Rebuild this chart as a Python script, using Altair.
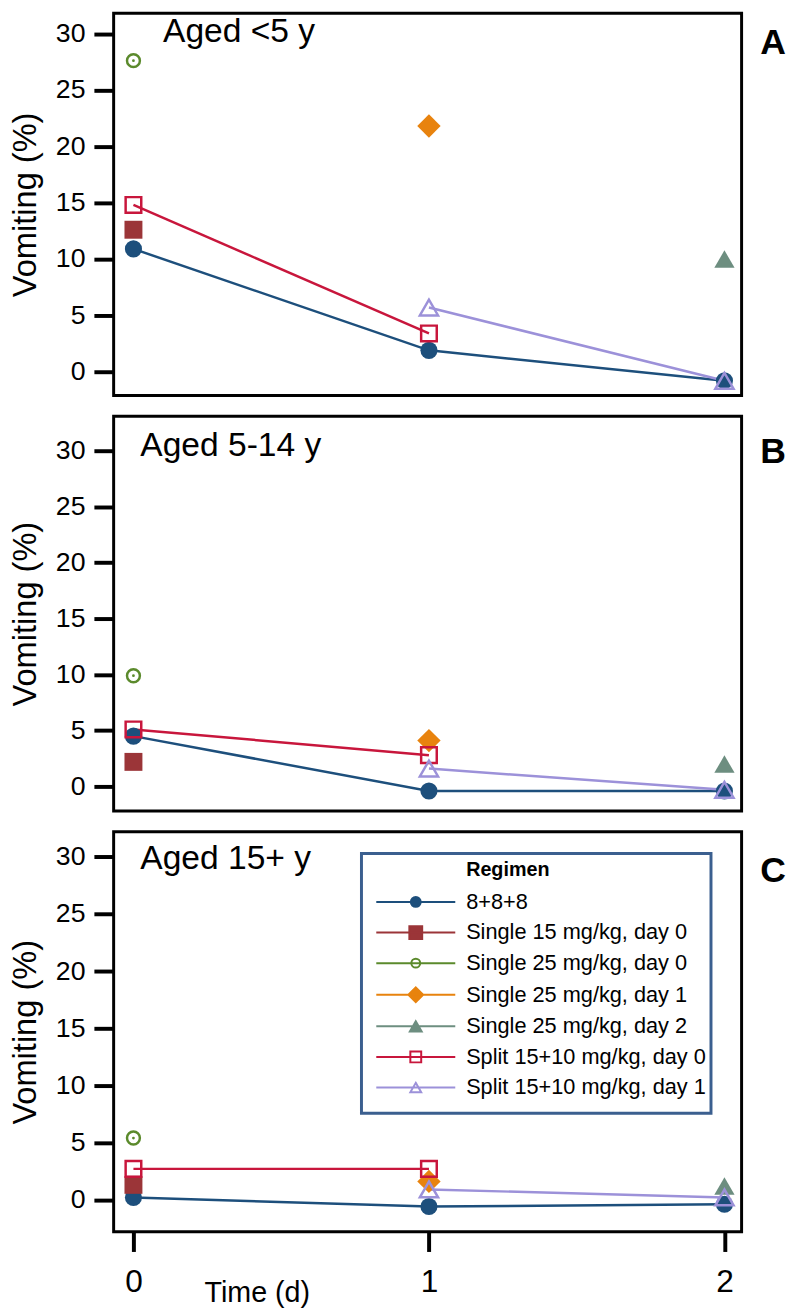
import altair as alt
import pandas as pd

FONT = "Liberation Sans"

# ---------------- data ----------------
regimens = [
    "8+8+8",
    "Single 15 mg/kg, day 0",
    "Single 25 mg/kg, day 0",
    "Single 25 mg/kg, day 1",
    "Single 25 mg/kg, day 2",
    "Split 15+10 mg/kg, day 0",
    "Split 15+10 mg/kg, day 1",
]
colors = ["#1d4f7c", "#9b3538", "#5b8a2c", "#e8830e", "#6d8e80", "#c8163c", "#9c91d9"]
filled = [True, True, False, True, True, False, False]
shapes = ["circle", "square", "circle", "diamond", "triangle-up", "square", "triangle-up"]
marker_sizes = [300, 330, 170, 560, 420, 250, 340]

days = [0, 1, 2]
N = None
vomit_under5 = [
    [10.9, 1.9, -0.8],
    [12.6, N, N],
    [27.6, N, N],
    [N, 21.8, N],
    [N, N, 10.0],
    [14.8, 3.4, N],
    [N, 5.7, -0.8],
]
vomit_5to14 = [
    [4.5, -0.4, -0.4],
    [2.2, N, N],
    [9.9, N, N],
    [N, 4.1, N],
    [N, N, 2.0],
    [5.1, 2.8, N],
    [N, 1.6, -0.3],
]
vomit_15plus = [
    [0.2, -0.6, -0.4],
    [1.3, N, N],
    [5.4, N, N],
    [N, 1.6, N],
    [N, N, 1.2],
    [2.7, 2.7, N],
    [N, 0.9, 0.2],
]
panel_titles = ["Aged <5 y", "Aged 5-14 y", "Aged 15+ y"]
panel_letters = ["A", "B", "C"]
y_ticks = [0, 5, 10, 15, 20, 25, 30]
x_ticks = [0, 1, 2]
legend_title = "Regimen"

# ---------------- helpers ----------------
XDOM = [-0.067, 2.058]
W = 636


def xenc(show):
    if show:
        return alt.X(
            "day:Q",
            scale=alt.Scale(domain=XDOM, nice=False, zero=False),
            axis=alt.Axis(
                values=x_ticks, format="d", tickSize=20, tickWidth=4, tickColor="black",
                domain=False, grid=False, labelFlush=False,
                labelFontSize=32, labelFont=FONT, labelColor="black", labelPadding=16,
                title="Time (d)", titleFont=FONT, titleFontSize=29, titleFontWeight="normal",
                titleColor="black", titleX=145, titleY=71, titleAlign="center",
                titleBaseline="alphabetic",
            ),
        )
    return alt.X("day:Q", scale=alt.Scale(domain=XDOM, nice=False, zero=False), axis=None)


def yenc(dom):
    return alt.Y(
        "vom:Q",
        scale=alt.Scale(domain=dom, nice=False, zero=False),
        axis=alt.Axis(
            values=y_ticks, tickSize=20, tickWidth=4, tickColor="black",
            domain=False, grid=False, labelFlush=False,
            labelFontSize=27, labelFont=FONT, labelColor="black", labelPadding=9,
            title="Vomiting (%)", titleFont=FONT, titleFontSize=33,
            titleFontWeight="normal", titleColor="black", titlePadding=13,
        ),
    )


def circle_path(m):
    return f"M-4,0H4M{-m},0A{m},{m} 0 1,0 {m},0A{m},{m} 0 1,0 {-m},0Z"


def square_path(m):
    return f"M-4,0H4M{-m},{-m}H{m}V{m}H{-m}Z"


def diamond_path(m):
    return f"M-4,0H4M0,{-m}L{m},0L0,{m}L{-m},0Z"


def triangle_path(m):
    h = round(m * 0.866, 3)
    return f"M-4,0H4M0,{-h}L{m},{h}L{-m},{h}Z"


legend_paths = [
    circle_path(0.5),
    square_path(0.65),
    circle_path(0.45),
    diamond_path(0.75),
    triangle_path(0.6),
    square_path(0.55),
    triangle_path(0.55),
]
legend_fills = [c if f else "transparent" for c, f in zip(colors, filled)]


def panel(idx, values, dom, height, bottom, title_xy, letter_y):
    rows = []
    for r, reg in enumerate(regimens):
        for d, v in zip(days, values[r]):
            if v is not None:
                rows.append({"regimen": reg, "day": d, "vom": v})
    df = pd.DataFrame(rows)

    X = xenc(bottom)
    Y = yenc(dom)

    layers = []
    # lines
    for r, reg in enumerate(regimens):
        n = sum(v is not None for v in values[r])
        if n >= 2:
            layers.append(
                alt.Chart(df)
                .transform_filter(alt.datum.regimen == reg)
                .mark_line(color=colors[r], strokeWidth=2.5)
                .encode(x=X, y=Y)
            )
    # points
    for r, reg in enumerate(regimens):
        if all(v is None for v in values[r]):
            continue
        layers.append(
            alt.Chart(df)
            .transform_filter(alt.datum.regimen == reg)
            .mark_point(shape=shapes[r], filled=filled[r], size=marker_sizes[r],
                        opacity=1, strokeWidth=2.5, color=colors[r])
            .encode(x=X, y=Y)
        )
        if not filled[r] and shapes[r] == "circle":
            layers.append(
                alt.Chart(df)
                .transform_filter(alt.datum.regimen == reg)
                .mark_point(shape="circle", filled=True, size=8, opacity=1, color=colors[r])
                .encode(x=X, y=Y)
            )

    tdf = pd.DataFrame({"label": [panel_titles[idx]]})
    layers.append(
        alt.Chart(tdf)
        .mark_text(align="left", baseline="alphabetic", font=FONT, fontSize=34, color="black")
        .encode(x=alt.value(title_xy[0]), y=alt.value(title_xy[1]), text="label:N")
    )
    ldf = pd.DataFrame({"label": [panel_letters[idx]]})
    layers.append(
        alt.Chart(ldf)
        .mark_text(align="left", baseline="alphabetic", font=FONT, fontSize=36,
                   fontWeight="bold", color="black")
        .encode(x=alt.value(655), y=alt.value(letter_y), text="label:N")
    )

    if bottom:
        box = pd.DataFrame({"k": [1]})
        layers.append(
            alt.Chart(box)
            .mark_rect(fill="white", stroke="#3b5f8f", strokeWidth=3)
            .encode(x=alt.value(251), x2=alt.value(605), y=alt.value(22), y2=alt.value(285))
        )
        layers.append(
            alt.Chart(pd.DataFrame({"label": [legend_title]}))
            .mark_text(align="left", baseline="alphabetic", font=FONT, fontSize=20,
                       fontWeight="bold", color="black")
            .encode(x=alt.value(357), y=alt.value(45), text="label:N")
        )
        leg = alt.Legend(
            title=None, orient="none", legendX=266, legendY=60, padding=0,
            symbolSize=400, symbolStrokeWidth=2, symbolOffset=29, labelOffset=40,
            labelFontSize=22, labelFont=FONT, labelColor="black", labelLimit=400,
            rowPadding=9,
        )
        layers.append(
            alt.Chart(df)
            .transform_filter("false")
            .mark_point(size=400, opacity=1, strokeWidth=2, filled=False)
            .encode(
                x=X, y=Y,
                stroke=alt.Stroke("regimen:N", scale=alt.Scale(domain=regimens, range=colors), legend=leg),
                fill=alt.Fill("regimen:N", scale=alt.Scale(domain=regimens, range=legend_fills), legend=leg),
                shape=alt.Shape("regimen:N", scale=alt.Scale(domain=regimens, range=legend_paths), legend=leg),
            )
        )

    return alt.layer(*layers).properties(width=W, height=height)


pA = panel(0, vomit_under5, [-2.1, 31.8], 387, False, (50, 29), 41)
pB = panel(1, vomit_5to14, [-2.2, 33.1], 400, False, (27, 40), 47)
pC = panel(2, vomit_15plus, [-2.8, 32.2], 405, True, (27, 38), 51)

chart = (
    alt.vconcat(pA, pB, pC, spacing=17)
    .resolve_scale(stroke="independent", fill="independent", shape="independent")
    .properties(padding={"left": 0, "top": -5, "right": 0, "bottom": 0}, background="white")
    .configure_view(stroke="black", strokeWidth=3)
)

chart.save("out.html", embed_options={"renderer": "svg", "actions": False})
